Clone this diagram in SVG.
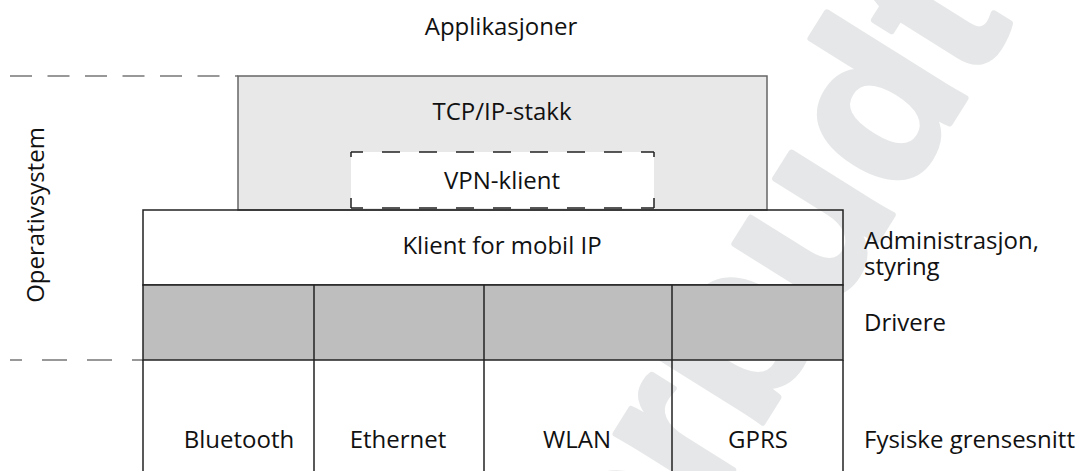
<svg xmlns="http://www.w3.org/2000/svg" width="1086" height="471" viewBox="0 0 1086 471">
  <style>
    text { font-family: "Open Sans", "Noto Sans", "Liberation Sans", sans-serif; font-size: 24px; font-weight: 500; fill: #111; }
    .c { text-anchor: middle; }
    .edge { stroke: #222; stroke-width: 1.5; }
    .soft { stroke: #666; stroke-width: 1.5; }
    .mark { font-family: "Liberation Sans", "DejaVu Sans", sans-serif; font-weight: bold; font-size: 225px; fill: #e6e7e8; stroke: #e6e7e8; stroke-width: 6; stroke-linejoin: round; }
  </style>

  <rect width="1086" height="471" fill="#ffffff"/>

  <!-- background stamp -->
  <text class="mark" text-anchor="end" transform="translate(1013,22) rotate(-58)">forbudt</text>

  <!-- layer separators -->
  <g id="guides" fill="none">
    <line x1="10" y1="76" x2="238" y2="76" stroke="#777" stroke-width="1.5" stroke-dasharray="22 15.5"/>
    <line x1="10" y1="360" x2="143" y2="360" stroke="#333" stroke-width="1.2" stroke-dasharray="25 20" stroke-dashoffset="13"/>
  </g>

  <g id="tcp-ip">
    <rect class="soft" x="238" y="76" width="529" height="134" fill="#e8e8e8"/>
    <text class="c" x="502" y="120">TCP/IP-stakk</text>
  </g>

  <g id="vpn">
    <rect x="351" y="152" width="303" height="56" fill="#ffffff"/>
    <g class="edge" fill="none" stroke-width="1.3">
      <line x1="351" y1="152" x2="654" y2="152" stroke-dasharray="18 19" stroke-dashoffset="6"/>
      <line x1="351" y1="208" x2="654" y2="208" stroke-dasharray="18 19" stroke-dashoffset="6"/>
      <line x1="351" y1="152" x2="351" y2="208" stroke-dasharray="5 41 10"/>
      <line x1="654" y1="152" x2="654" y2="208" stroke-dasharray="5 41 10"/>
    </g>
    <text class="c" x="502" y="189">VPN-klient</text>
  </g>

  <g id="mobile-ip">
    <rect class="edge" x="143" y="210" width="700" height="75" fill="none"/>
    <text class="c" x="502" y="254">Klient for mobil IP</text>
  </g>

  <g id="drivers">
    <rect class="edge" x="143" y="285" width="700" height="75" fill="#bebebe"/>
    <line class="edge" x1="314" y1="285" x2="314" y2="360"/>
    <line class="edge" x1="484" y1="285" x2="484" y2="360"/>
    <line class="edge" x1="672" y1="285" x2="672" y2="360"/>
  </g>

  <g id="interfaces" class="edge">
    <line x1="143" y1="360" x2="143" y2="471"/>
    <line x1="314" y1="360" x2="314" y2="471"/>
    <line x1="484" y1="360" x2="484" y2="471"/>
    <line x1="672" y1="360" x2="672" y2="471"/>
    <line x1="843" y1="360" x2="843" y2="471"/>
  </g>
  <g id="bluetooth"><text class="c" x="239" y="448">Bluetooth</text></g>
  <g id="ethernet"><text class="c" x="398" y="448">Ethernet</text></g>
  <g id="wlan"><text class="c" x="577" y="448">WLAN</text></g>
  <g id="gprs"><text class="c" x="758" y="448">GPRS</text></g>

  <!-- side labels -->
  <g id="labels">
    <text class="c" x="501" y="35">Applikasjoner</text>
    <text class="c" transform="translate(44,215) rotate(-90)">Operativsystem</text>
    <text x="864" y="249">Administrasjon,</text>
    <text x="864" y="275">styring</text>
    <text x="864" y="331">Drivere</text>
    <text x="864" y="448">Fysiske grensesnitt</text>
  </g>
</svg>
